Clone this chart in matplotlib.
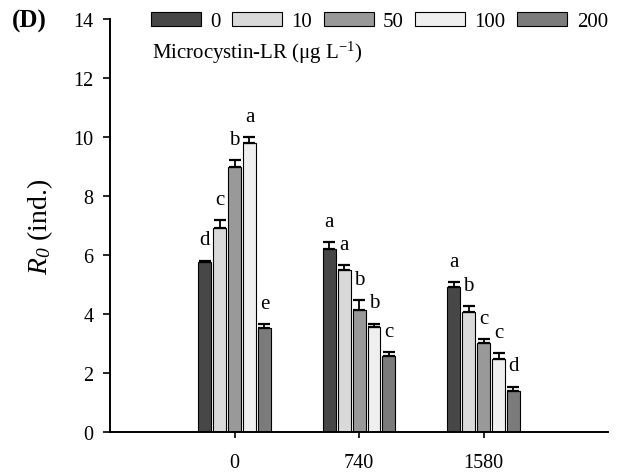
import numpy as np
import matplotlib
matplotlib.use("Agg")
import matplotlib.pyplot as plt

plt.rcParams["font.family"] = ["Liberation Serif", "DejaVu Serif"]
plt.rcParams["mathtext.fontset"] = "custom"
plt.rcParams["mathtext.rm"] = "Liberation Serif"
plt.rcParams["mathtext.it"] = "Liberation Serif:italic"
# italic digits for the R0 subscript
plt.rcParams["mathtext.sf"] = "Liberation Serif:italic"

# Data: R0 for each cell density group and microcystin-LR level
groups = ["0", "740", "1580"]
mclr_levels = ["0", "10", "50", "100", "200"]
r0_mean = [
    [5.77, 6.92, 9.00, 9.79, 3.53],   # group 0
    [6.20, 5.49, 4.15, 3.55, 2.57],   # group 740
    [4.91, 4.06, 3.02, 2.47, 1.38],   # group 1580
]
r0_err = [
    [0.04, 0.27, 0.22, 0.22, 0.14],
    [0.25, 0.17, 0.33, 0.13, 0.13],
    [0.17, 0.22, 0.13, 0.20, 0.16],
]
sig_letters = [
    ["d", "c", "b", "a", "e"],
    ["a", "a", "b", "b", "c"],
    ["a", "b", "c", "c", "d"],
]
bar_colors = ["#474747", "#d9d9d9", "#999999", "#efefef", "#7b7b7b"]

mean = np.array(r0_mean)
err = np.array(r0_err)

fig = plt.figure(figsize=(6.18, 4.77), dpi=100)
ax = fig.add_axes([0.178, 0.092, 0.806, 0.866])

x = np.arange(len(groups))
pitch = 0.12
width = 0.104
handles = []
for i, lvl in enumerate(mclr_levels):
    pos = x + (i - 2) * pitch
    b = ax.bar(pos, mean[:, i], width, color=bar_colors[i],
               edgecolor="black", linewidth=0.8, label=lvl, zorder=2)
    handles.append(b)
    ax.errorbar(pos, mean[:, i], yerr=[np.zeros(len(groups)), err[:, i]],
                fmt="none", ecolor="black", elinewidth=1.3, capsize=4.5,
                capthick=1.6, zorder=3)
    for j in range(len(groups)):
        ax.text(pos[j], mean[j, i] + err[j, i] + 0.55, sig_letters[j][i],
                ha="center", va="baseline", fontsize=15)

ax.set_xlim(-1, 3)
ax.set_ylim(0, 14)
ax.set_xticks(x)
ax.set_xticklabels(groups)
ax.set_yticks(np.arange(0, 15, 2))
ax.tick_params(axis="both", labelsize=14.5, direction="out", width=1.2)
ax.tick_params(axis="y", length=5, pad=7)
ax.tick_params(axis="x", length=4, pad=11)
for side in ["top", "right"]:
    ax.spines[side].set_visible(False)
for side in ["left", "bottom"]:
    ax.spines[side].set_linewidth(1.4)

ax.set_ylabel(r"$R_{\mathsf{0}}$" + " (ind.)", fontsize=20, labelpad=13)

fig.legend(handles=handles, labels=mclr_levels, loc="upper left",
           bbox_to_anchor=(0.244, 0.972), ncol=5, frameon=False,
           fontsize=15, handlelength=2.4, handleheight=0.6,
           handletextpad=0.45, columnspacing=0.55, borderpad=0,
           borderaxespad=0)
fig.text(0.246, 0.889, r"Microcystin-LR (μg L$^{-1}$)", fontsize=15,
         ha="left", va="center")
fig.text(0.02, 0.955, "(D)", fontsize=18, fontweight="bold", va="center")

fig.savefig("out.png", dpi=100)
